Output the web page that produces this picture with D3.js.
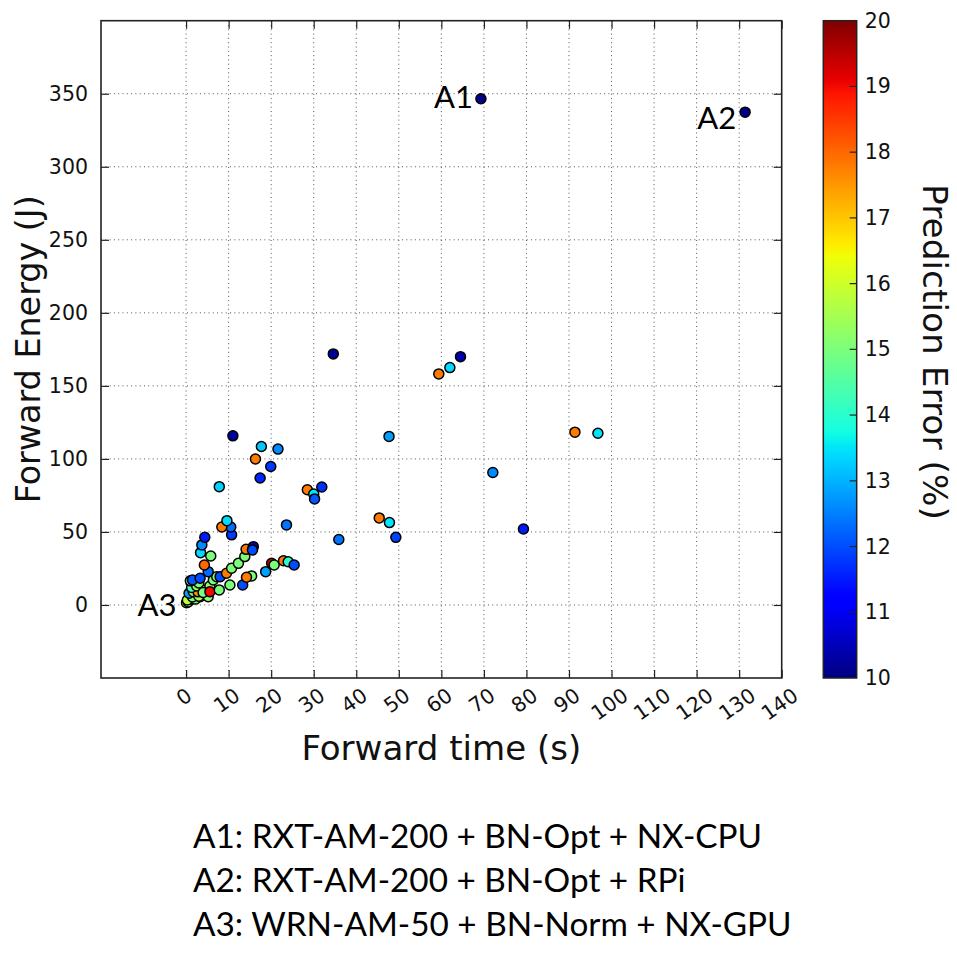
<!DOCTYPE html>
<html><head><meta charset="utf-8">
<script src="https://cdn.jsdelivr.net/npm/d3@7"></script>
<style>body{margin:0;background:#fff} svg{display:block}</style>
</head><body>
<svg id="c" width="957" height="969"></svg>
<script>
// ---------- data ----------
const xTicks = [0,10,20,30,40,50,60,70,80,90,100,110,120,130,140];
const yTicks = [0,50,100,150,200,250,300,350];
const cbTicks = [10,11,12,13,14,15,16,17,18,19,20];

// forward time (s)
const times = [
  0.1,0.5,1.3,0.3,2.2,1.5,0.7,1.7,2.1,3.3,5.2,4.0,3.0,5.6,2.8,
  1.3,2.5,1.0,3.0,1.5,3.3,
  4.0,5.6,7.8,10.3,13.3,15.4,14.2,
  6.4,7.2,8.0,9.5,10.7,12.3,13.8,14.1,15.8,15.6,
  18.7,20.1,20.7,22.9,24.0,25.4,
  5.2,4.3,5.8,3.4,3.7,4.4,
  10.7,10.5,8.4,9.6,23.6,
  7.8,17.4,19.9,16.3,21.6,17.7,11.0,
  28.5,30.0,30.2,31.9,35.9,45.4,47.8,49.3,47.7,
  34.6,59.4,62.0,64.5,72.1,79.3,91.4,96.8,
  69.3,131.4
];
// forward energy (J)
const energies = [
  1.5,2.0,3.9,3.4,4.0,5.5,8.0,9.1,13.7,5.7,5.7,10.3,6.0,13.0,9.0,
  12.0,13.0,16.5,15.0,17.1,18.3,
  8.5,9.1,10.3,13.7,13.7,19.9,19.0,
  17.1,19.4,19.4,21.7,25.1,28.5,33.1,38.1,39.9,37.7,
  22.8,28.5,27.4,30.3,29.6,27.4,
  22.8,27.4,33.5,35.8,41.1,46.3,
  48.0,53.4,53.4,57.7,54.8,
  81.0,86.9,94.8,99.9,106.7,108.5,115.8,
  78.9,76.0,72.6,80.8,44.8,59.6,56.4,46.3,115.4,
  171.9,158.2,162.5,170.0,90.7,52.0,118.3,117.6,
  346.6,337.4
];
// prediction error (%)
const errors = [
  15.6,15.0,15.3,15.8,15.2,15.0,12.8,15.1,15.0,15.4,15.2,15.0,15.5,15.2,17.6,
  14.3,15.3,14.6,15.0,12.1,12.0,
  15.0,19.0,15.0,15.0,12.0,15.0,17.8,
  15.0,15.1,12.0,17.8,15.0,15.0,15.0,17.8,10.6,12.0,
  12.8,19.3,15.0,17.8,14.0,12.0,
  12.3,18.0,15.0,13.4,12.6,11.5,
  11.8,12.3,17.8,13.4,12.4,
  13.3,11.6,11.8,17.8,12.6,13.2,10.3,
  17.8,13.5,12.1,11.7,12.4,17.8,13.5,11.9,12.8,
  10.2,17.8,13.4,10.4,12.6,11.5,17.8,13.5,
  10.1,10.1
];

const annLabels = ["A1","A2","A3"];
const annX = [69.3,131.4,0.1];
const annY = [346.6,337.4,1.5];

const notes = [
  "A1: RXT-AM-200 + BN-Opt + NX-CPU",
  "A2: RXT-AM-200 + BN-Opt + RPi",
  "A3: WRN-AM-50 + BN-Norm + NX-GPU"
];

const xTitle = "Forward time (s)";
const yTitle = "Forward Energy (J)";
const cbTitle = "Prediction Error (%)";

// ---------- helpers ----------
function jet(v){
  const t = Math.max(0, Math.min(1, (v - 10) / 10));
  const r = d3.scaleLinear().domain([0,0.35,0.66,0.89,1]).range([0,0,1,1,0.5]).clamp(true)(t);
  const g = d3.scaleLinear().domain([0,0.125,0.375,0.64,0.91,1]).range([0,0,1,1,0,0]).clamp(true)(t);
  const b = d3.scaleLinear().domain([0,0.11,0.34,0.65,1]).range([0.5,1,1,0,0]).clamp(true)(t);
  return d3.rgb(r*255, g*255, b*255).toString();
}
function fitWidth(sel, target){
  const n = sel.node();
  const fs = parseFloat(sel.attr("font-size"));
  const w = n.getComputedTextLength();
  sel.attr("font-size", (fs * target / w).toFixed(2));
}

// ---------- layout ----------
const svg = d3.select("#c");
const L = 101, R = 781.7, T = 20.7, B = 678;
const x = d3.scaleLinear().domain([-20,140]).range([L,R]);
const y = d3.scaleLinear().domain([-50,400]).range([B,T]);
const TICKF = "DejaVu Sans, sans-serif";
const gridCol = "#555";

// grid
const grid = svg.append("g");
grid.selectAll("line.vx").data(xTicks.filter(d => d < 140)).join("line")
  .attr("x1", d => x(d)).attr("x2", d => x(d)).attr("y1", T).attr("y2", B)
  .attr("stroke", gridCol).attr("stroke-width", 1).attr("stroke-dasharray", "1,3.3");
grid.selectAll("line.hy").data(yTicks).join("line")
  .attr("y1", d => y(d)).attr("y2", d => y(d)).attr("x1", L).attr("x2", R)
  .attr("stroke", gridCol).attr("stroke-width", 1).attr("stroke-dasharray", "1,3.3");

// axes with inward ticks on all 4 sides
const tl = 8;
const ax = svg.append("g");
ax.append("g").attr("transform", `translate(0,${B})`)
  .call(d3.axisBottom(x).tickValues(xTicks).tickSize(-tl).tickFormat(""));
ax.append("g").attr("transform", `translate(0,${T})`)
  .call(d3.axisTop(x).tickValues(xTicks).tickSize(-tl).tickFormat(""));
const yl = ax.append("g").attr("transform", `translate(${L},0)`)
  .call(d3.axisLeft(y).tickValues(yTicks).tickSize(-tl).tickPadding(13));
ax.append("g").attr("transform", `translate(${R},0)`)
  .call(d3.axisRight(y).tickValues(yTicks).tickSize(-tl).tickFormat(""));
ax.selectAll(".domain").remove();
ax.selectAll(".tick line").attr("stroke", "#222").attr("stroke-width", 1.2);
yl.selectAll("text").attr("font-family", TICKF).attr("font-size", 20.5).attr("fill", "#111");

// x tick labels rotated
const ang = 35, rad = ang * Math.PI / 180;
const xlab = svg.append("g").selectAll("text").data(xTicks).join("text")
  .attr("font-family", TICKF).attr("font-size", 20.5).attr("fill", "#111")
  .attr("text-anchor", "middle").attr("dominant-baseline", "central")
  .text(d => d);
xlab.each(function(d){
  const w = this.getComputedTextLength();
  const h = 15;
  const bh = w * Math.sin(rad) + h * Math.cos(rad);
  d3.select(this).attr("transform", `translate(${x(d) - 2},${B + 9 + bh/2}) rotate(${-ang})`);
});

// frame
svg.append("rect").attr("x", L).attr("y", T).attr("width", R-L).attr("height", B-T)
  .attr("fill", "none").attr("stroke", "#222").attr("stroke-width", 1.6);

// points
svg.append("g").selectAll("circle").data(times.map((t,i) => i)).join("circle")
  .attr("cx", i => x(times[i])).attr("cy", i => y(energies[i])).attr("r", 5)
  .attr("fill", i => jet(errors[i])).attr("stroke", "#000").attr("stroke-width", 1.5);

// annotations
const annDx = [-8, -9, -10], annDy = [9, 17, 13];
svg.append("g").selectAll("text").data(annLabels).join("text")
  .attr("x", (d,i) => x(annX[i]) + annDx[i]).attr("y", (d,i) => y(annY[i]) + annDy[i])
  .attr("text-anchor", "end").attr("font-family", "Lato, sans-serif").attr("font-size", 31)
  .attr("fill", "#000").text(d => d);

// axis titles
const xt1 = svg.append("text").attr("x", (L+R)/2).attr("y", 760).attr("text-anchor", "middle")
  .attr("font-family", TICKF).attr("font-size", 28).attr("fill", "#111").text(xTitle);
fitWidth(xt1, 280);
const yt1 = svg.append("text").attr("transform", `translate(40,${(T+B)/2}) rotate(-90)`)
  .attr("text-anchor", "middle")
  .attr("font-family", TICKF).attr("font-size", 28).attr("fill", "#111").text(yTitle);
fitWidth(yt1, 308);

// colorbar
const cbL = 823.3, cbR = 856.7;
const cy = d3.scaleLinear().domain([10,20]).range([B,T]);
const defs = svg.append("defs");
const grad = defs.append("linearGradient").attr("id", "jet").attr("x1", 0).attr("y1", 1).attr("x2", 0).attr("y2", 0);
d3.range(0, 101).forEach(k => {
  grad.append("stop").attr("offset", k + "%").attr("stop-color", jet(10 + k/10));
});
svg.append("rect").attr("x", cbL).attr("y", T).attr("width", cbR-cbL).attr("height", B-T)
  .attr("fill", "url(#jet)");
const cbAx = svg.append("g").attr("transform", `translate(${cbR},0)`)
  .call(d3.axisRight(cy).tickValues(cbTicks).tickSize(0).tickPadding(8));
cbAx.select(".domain").remove();
cbAx.selectAll("text").attr("font-family", TICKF).attr("font-size", 20.5).attr("fill", "#111");
svg.append("g").selectAll("line").data(cbTicks.slice(1, -1)).join("line")
  .attr("x1", cbR - 7).attr("x2", cbR).attr("y1", d => cy(d)).attr("y2", d => cy(d))
  .attr("stroke", "#222").attr("stroke-width", 1.2);
svg.append("rect").attr("x", cbL).attr("y", T).attr("width", cbR-cbL).attr("height", B-T)
  .attr("fill", "none").attr("stroke", "#222").attr("stroke-width", 1.5);
const cbt = svg.append("text").attr("transform", `translate(923,${352}) rotate(90)`)
  .attr("text-anchor", "middle")
  .attr("font-family", TICKF).attr("font-size", 30).attr("fill", "#111").text(cbTitle);
fitWidth(cbt, 336);

// notes below
const nt = svg.append("g").selectAll("text").data(notes).join("text")
  .attr("x", 193).attr("y", (d,i) => 848 + i*44)
  .attr("font-family", "Lato, sans-serif").attr("font-size", 30).attr("fill", "#000")
  .text(d => d);
const n0 = nt.nodes()[0];
const fsN = 30 * 569 / n0.getComputedTextLength();
nt.attr("font-size", fsN.toFixed(2));
</script>
</body></html>
